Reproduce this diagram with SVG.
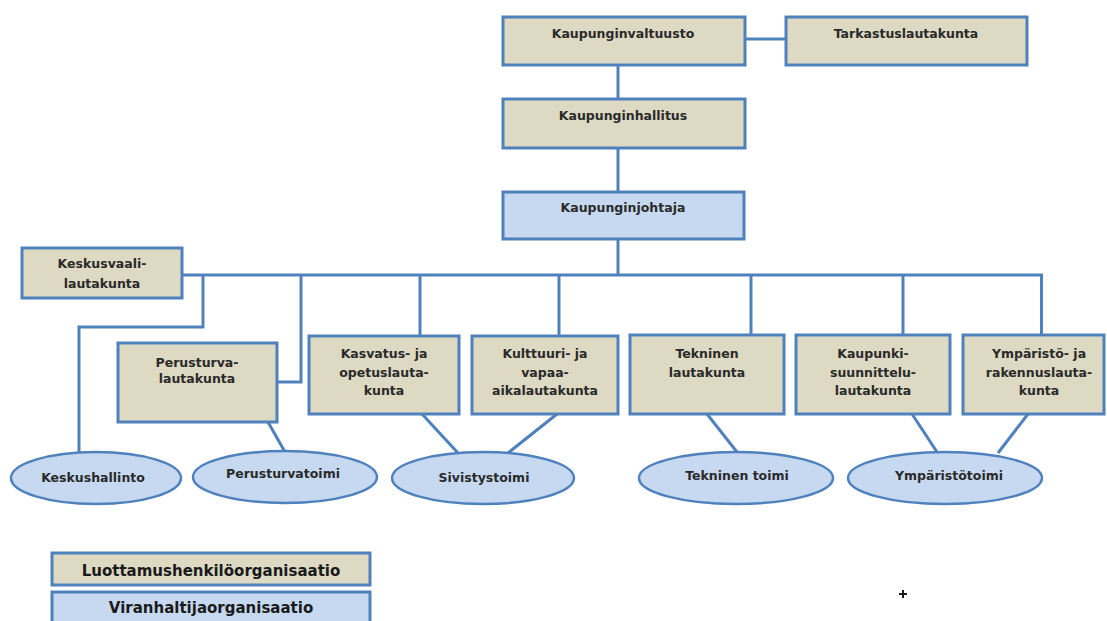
<svg xmlns="http://www.w3.org/2000/svg" width="1107" height="621" viewBox="0 0 1107 621">
  <style>
    .trust { fill: #ddd9c3; stroke: #4f81bd; stroke-width: 3; }
    .office { fill: #c6d9f1; stroke: #4f81bd; stroke-width: 3; }
    .unit { fill: #c6d9f1; stroke: #4f81bd; stroke-width: 2.5; }
    .link { fill: none; stroke: #4f81bd; stroke-width: 3; stroke-linejoin: miter; }
    text { font-family: "DejaVu Sans", "Liberation Sans", sans-serif; font-size: 12.5px; font-weight: bold; fill: #2a2a2a; text-anchor: middle; }
    .legend text { font-size: 15px; fill: #1a1a1a; }
  </style>
  <rect width="1107" height="621" fill="#ffffff"/>

  <!-- connectors -->
  <g id="connectors">
    <path class="link" d="M745 39 H786"/>
    <path class="link" d="M618 65 V99"/>
    <path class="link" d="M618 148 V192"/>
    <path class="link" d="M618 239 V275"/>
    <path class="link" d="M182 275 H1041.5 V335"/>
    <path class="link" d="M203 275 V327 H79 V453"/>
    <path class="link" d="M301 275 V382 H277"/>
    <path class="link" d="M420 275 V336"/>
    <path class="link" d="M559 275 V336"/>
    <path class="link" d="M751 275 V335"/>
    <path class="link" d="M903 275 V335"/>
    <path class="link" d="M268 422 L285 452"/>
    <path class="link" d="M422 414 L458 453"/>
    <path class="link" d="M557 414 L508 453"/>
    <path class="link" d="M707 414 L737 452"/>
    <path class="link" d="M912 414 L937 452"/>
    <path class="link" d="M1028 414 L998 453"/>
  </g>

  <!-- council and board -->
  <g id="kaupunginvaltuusto">
    <rect class="trust" x="503" y="17" width="242" height="48"/>
    <text x="623" y="38">Kaupunginvaltuusto</text>
  </g>
  <g id="tarkastuslautakunta">
    <rect class="trust" x="786" y="17" width="241" height="48"/>
    <text x="906" y="38">Tarkastuslautakunta</text>
  </g>
  <g id="kaupunginhallitus">
    <rect class="trust" x="503" y="99" width="242" height="49"/>
    <text x="623" y="120">Kaupunginhallitus</text>
  </g>
  <g id="kaupunginjohtaja">
    <rect class="office" x="503" y="192" width="241" height="47"/>
    <text x="623" y="212">Kaupunginjohtaja</text>
  </g>

  <!-- committees -->
  <g id="keskusvaalilautakunta">
    <rect class="trust" x="22" y="248" width="160" height="50"/>
    <text x="102" y="268">Keskusvaali-</text>
    <text x="102" y="288">lautakunta</text>
  </g>
  <g id="perusturvalautakunta">
    <rect class="trust" x="118" y="343" width="159" height="79"/>
    <text x="197" y="367">Perusturva-</text>
    <text x="197" y="383">lautakunta</text>
  </g>
  <g id="kasvatuslautakunta">
    <rect class="trust" x="309" y="336" width="150" height="78"/>
    <text x="384" y="358">Kasvatus- ja</text>
    <text x="384" y="377">opetuslauta-</text>
    <text x="384" y="395">kunta</text>
  </g>
  <g id="kulttuurilautakunta">
    <rect class="trust" x="472" y="336" width="146" height="78"/>
    <text x="545" y="358">Kulttuuri- ja</text>
    <text x="545" y="377">vapaa-</text>
    <text x="545" y="395">aikalautakunta</text>
  </g>
  <g id="tekninenlautakunta">
    <rect class="trust" x="630" y="335" width="154" height="79"/>
    <text x="707" y="358">Tekninen</text>
    <text x="707" y="377">lautakunta</text>
  </g>
  <g id="kaupunkisuunnittelulautakunta">
    <rect class="trust" x="796" y="335" width="154" height="79"/>
    <text x="873" y="358">Kaupunki-</text>
    <text x="873" y="377">suunnittelu-</text>
    <text x="873" y="395">lautakunta</text>
  </g>
  <g id="ymparistolautakunta">
    <rect class="trust" x="963" y="335" width="141" height="79"/>
    <text x="1039" y="358">Ympäristö- ja</text>
    <text x="1039" y="377">rakennuslauta-</text>
    <text x="1039" y="395">kunta</text>
  </g>

  <!-- service departments -->
  <g id="keskushallinto">
    <ellipse class="unit" cx="96" cy="478" rx="85" ry="26"/>
    <text x="93" y="482">Keskushallinto</text>
  </g>
  <g id="perusturvatoimi">
    <ellipse class="unit" cx="285" cy="477" rx="92" ry="26"/>
    <text x="283" y="478">Perusturvatoimi</text>
  </g>
  <g id="sivistystoimi">
    <ellipse class="unit" cx="483" cy="478" rx="91" ry="26"/>
    <text x="484" y="482">Sivistystoimi</text>
  </g>
  <g id="tekninentoimi">
    <ellipse class="unit" cx="736" cy="478" rx="97" ry="26"/>
    <text x="737" y="480">Tekninen toimi</text>
  </g>
  <g id="ymparistotoimi">
    <ellipse class="unit" cx="945" cy="478" rx="97" ry="26"/>
    <text x="949" y="480">Ympäristötoimi</text>
  </g>

  <!-- legend -->
  <g id="legend" class="legend">
    <rect class="trust" x="52" y="553" width="318" height="32"/>
    <text x="211" y="576">Luottamushenkilöorganisaatio</text>
    <rect class="office" x="52" y="592" width="318" height="34"/>
    <text x="211" y="613">Viranhaltijaorganisaatio</text>
  </g>

  <!-- small cross mark -->
  <path d="M903 590 V598 M899 594 H907" stroke="#1a1a1a" stroke-width="2" fill="none"/>
</svg>
